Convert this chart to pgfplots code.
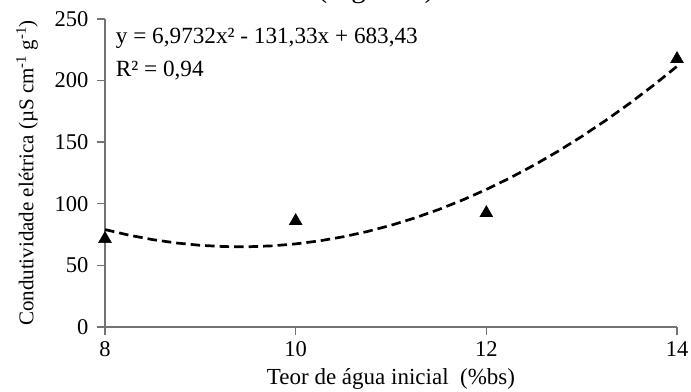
\documentclass[border=0pt]{standalone}
\usepackage{pgfplots}
\pgfplotsset{compat=1.18}
\usetikzlibrary{calc}
\usepackage{fontspec}
\setmainfont{Liberation Serif}
\begin{document}
\begin{tikzpicture}
\begin{axis}[
  name=ax,
  scale only axis,
  width=572pt, height=308pt,
  xmin=8, xmax=14, ymin=0, ymax=250,
  xtick={8,10,12,14}, ytick={0,50,100,150,200,250},
  axis lines=left,
  axis line style={draw=black!55, line width=1.4pt, -},
  tick style={draw=black!55, line width=1.4pt},
  major tick length=8pt,
  tick align=outside,
  clip=false,
  /pgf/number format/assume math mode=true,
  ticklabel style={font=\fontsize{22.5}{26}\selectfont},
  xticklabel style={yshift=-3pt},
  yticklabel style={xshift=-5pt},
]
\addplot[black, line width=2.7pt, dash pattern=on 9.5pt off 5pt] coordinates {
(8,79.07) (8.25,74.57) (8.5,70.93) (8.75,68.18) (9,66.29) (9.25,65.28)
(9.5,65.12) (9.75,65.85) (10,67.45) (10.25,69.92) (10.5,73.26) (10.75,77.47)
(11,82.56) (11.25,88.52) (11.5,95.34) (11.75,103.04) (12,111.61) (12.25,121.06)
(12.5,131.36) (12.75,142.55) (13,154.61) (13.25,167.55) (13.5,181.34)
(13.75,196.01) (14,211.56)};
\addplot[only marks, mark=triangle*, mark size=7.5pt, black] coordinates {
(8,71.5) (10,86) (12,92.5) (14,217.5)};
\node[anchor=west, font=\fontsize{23.2}{26}\selectfont] at (rel axis cs:0.013,0.938) {y = 6,9732x² - 131,33x + 683,43};
\node[anchor=west, font=\fontsize{23.2}{26}\selectfont] at (rel axis cs:0.013,0.834) {R² = 0,94};
\end{axis}
\node[font=\fontsize{23}{26}\selectfont] at ($(ax.south west)!0.5!(ax.south east)+(0,-52pt)$) {Teor de água inicial\ \ (\%bs)};
\node[rotate=90, font=\fontsize{21}{24}\selectfont] at ($(ax.south west)!0.5!(ax.north west)+(-78pt,0)$) {Condutividade elétrica (µS cm\textsuperscript{-1} g\textsuperscript{-1})};
\node[anchor=base, font=\fontsize{29}{32}\selectfont] at ($(ax.north west)+(271pt,21.5pt)$) {(Figura 5)};
\pgfresetboundingbox
\path[use as bounding box] ($(ax.south west)+(-105pt,-65pt)$) rectangle ($(ax.north east)+(14pt,19pt)$);
\end{tikzpicture}
\end{document}
